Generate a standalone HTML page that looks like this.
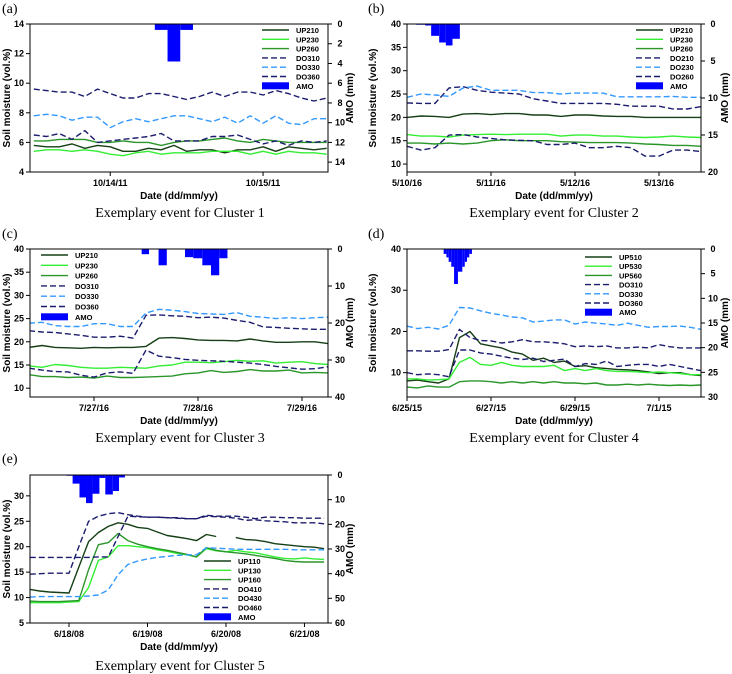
<!DOCTYPE html>
<html><head><meta charset="utf-8"><style>
body{margin:0;background:#fff;}
svg{display:block;font-family:"Liberation Sans",Arial,sans-serif;}
.cap{font-family:"Liberation Serif",serif;font-size:14px;}
</style></head><body>
<svg id="fig" width="732" height="674" viewBox="0 0 732 674" xmlns="http://www.w3.org/2000/svg"></svg>
<script>
// ---------- Panel (a) data ----------
const aHours=[12,14,16,18,20,22,24,26,28,30,32,34,36,38,40,42,44,46,48,50,52,54,56,58];
const aUP210=[5.8,5.7,5.7,5.9,5.6,5.8,5.7,5.4,5.4,5.6,5.5,5.8,5.4,5.5,5.5,5.3,5.5,5.5,5.7,5.4,5.7,5.6,5.5,5.6];
const aUP230=[5.4,5.5,5.5,5.4,5.5,5.4,5.2,5.1,5.3,5.4,5.2,5.3,5.3,5.3,5.4,5.4,5.4,5.2,5.4,5.2,5.4,5.3,5.3,5.2];
const aUP260=[6.1,6.1,6.2,6.2,6.2,6.0,6.0,6.1,6.0,6.0,5.8,6.0,6.1,6.1,6.2,6.3,6.1,6.0,6.2,6.1,6.0,6.0,6.0,6.0];
const aDO310=[9.6,9.5,9.4,9.4,9.1,9.6,9.3,9.0,9.0,9.3,9.3,9.1,8.9,9.1,9.4,9.1,9.4,9.4,9.2,9.5,9.3,9.0,8.8,9.0];
const aDO330=[7.8,7.9,7.8,7.5,7.7,7.7,7.0,7.4,7.6,7.4,7.6,7.8,7.8,7.6,7.4,7.7,7.3,7.8,7.3,7.8,7.3,7.2,7.6,7.6];
const aDO360=[6.5,6.4,6.6,6.2,6.8,6.0,6.1,6.2,6.3,6.4,6.6,6.1,6.1,6.1,6.4,6.4,6.5,6.2,5.9,6.1,5.8,6.1,6.0,6.1];
const aBarStart=[31,33,35];
const aBarEnd=[33,35,37];
const aAMO=[0.6,3.8,0.6];
const aTickHours=[24,48];
const aTickLabels=["10/14/11","10/15/11"];
// ---------- Panel (b) data ----------
const bHours=[0,4,8,12,16,20,24,28,32,36,40,44,48,52,56,60,64,68,72,76,80,84];
const bUP210=[20.0,20.3,20.2,20.0,20.7,20.8,20.6,20.8,20.8,20.5,20.5,20.2,20.5,20.5,20.3,20.2,20.2,20.0,20.0,20.0,20.0,20.0];
const bUP230=[16.3,16.0,16.0,15.8,16.2,16.3,16.4,16.3,16.4,16.4,16.4,16.0,16.2,16.2,16.0,16.0,15.8,15.7,15.8,16.0,15.8,15.7];
const bUP260=[14.5,14.5,14.3,14.5,14.3,14.5,15.0,15.2,15.0,15.0,15.0,14.8,14.7,14.6,14.6,14.6,14.5,14.3,14.2,14.0,14.0,13.8];
const bDO210=[23.1,23.0,23.0,26.3,26.6,25.8,25.4,25.2,25.0,24.0,23.5,23.0,23.0,23.0,23.0,22.8,22.4,22.4,22.4,21.8,21.8,22.3];
const bDO230=[24.3,25.0,24.8,24.5,26.3,26.7,25.8,25.8,25.8,25.3,25.3,25.0,25.2,25.2,25.2,24.4,24.4,24.4,24.4,24.5,24.3,24.3];
const bDO260=[13.8,13.0,13.5,16.2,16.3,15.8,15.5,15.2,15.1,15.0,14.2,14.2,14.5,13.5,13.5,13.8,13.5,11.7,11.7,13.0,13.0,12.7];
const bBarStart=[2.6,5.2,6.9,9.2,11.1,13.0];
const bBarEnd=[5.2,6.9,9.2,11.1,13.0,15.1];
const bAMO=[0.1,0.2,1.6,2.5,2.9,2.0];
const bTickHours=[0,24,48,72];
const bTickLabels=["5/10/16","5/11/16","5/12/16","5/13/16"];
// ---------- Panel (c) data ----------
const cHours=[9,12,15,18,21,24,27,30,33,36,39,42,45,48,51,54,57,60,63,66,69,72,75,78];
const cUP210=[18.8,19.2,18.8,18.7,18.6,18.8,18.7,18.8,18.8,19.0,20.8,20.9,20.7,20.4,20.3,20.3,20.2,20.6,20.2,19.9,19.9,20.0,20.0,19.6];
const cUP230=[14.8,14.5,15.1,14.9,14.5,14.3,14.3,14.5,14.4,14.3,14.8,15.0,15.6,15.6,15.5,15.7,16.0,15.8,15.9,15.4,15.6,15.7,15.3,15.1];
const cUP260=[12.9,12.5,12.5,12.3,12.4,12.2,12.6,12.3,12.3,12.4,12.5,12.6,13.1,13.3,13.8,13.4,13.6,14.0,13.7,13.7,13.9,13.3,13.4,13.3];
const cDO310=[22.4,22.1,22.0,21.7,21.4,21.0,21.0,21.2,20.8,25.7,25.8,25.6,25.5,25.2,25.3,25.1,24.6,24.2,23.2,23.1,22.9,22.8,22.7,22.7];
const cDO330=[24.0,24.2,23.5,23.3,23.3,23.9,23.9,23.3,23.3,26.2,27.0,26.8,26.5,26.1,26.0,25.9,26.3,25.5,25.3,25.0,25.2,25.0,25.2,25.3];
const cDO360=[14.3,13.9,13.6,13.5,12.8,12.4,13.3,13.5,13.2,18.2,16.9,16.6,16.2,16.0,15.9,15.8,15.6,15.4,15.1,14.7,14.4,14.1,14.2,14.6];
const cBarStart=[35,38.9,45,46.9,49,51,52.9];
const cBarEnd=[36.7,40.8,46.9,49,51,52.9,54.8];
const cAMO=[1.4,4.4,2.2,2.5,4.4,7.1,2.5];
const cTickHours=[24,48,72];
const cTickLabels=["7/27/16","7/28/16","7/29/16"];
// ---------- Panel (d) data ----------
const dHours=[0,6,12,18,24,30,36,42,48,54,60,66,72,78,84,90,96,102,108,114,120,126,132,138,144,150,156,162,168];
const dUP510=[8.0,8.2,7.8,7.5,8.5,18.5,20.0,17.0,16.5,16.0,15.0,14.5,13.0,13.5,12.5,12.8,11.5,11.7,11.2,11.0,10.8,10.7,10.5,10.2,9.8,10.0,10.0,9.5,9.3];
const dUP530=[8.5,8.5,8.2,8.3,8.5,12.5,13.7,12.0,11.8,12.5,11.8,11.5,11.5,11.5,11.8,10.5,11.0,10.5,11.0,10.5,10.3,10.3,10.2,10.0,10.2,10.0,9.8,9.5,9.5];
const dUP560=[6.5,6.3,6.8,6.5,6.5,7.8,8.0,8.0,7.8,7.5,7.8,7.5,7.8,7.5,7.8,7.5,7.5,7.3,7.5,7.0,7.0,7.2,7.0,7.2,7.0,6.9,7.0,6.9,7.0];
const dDO310=[15.3,15.3,15.2,15.2,15.6,20.5,18.5,17.8,17.7,17.2,17.5,18.0,17.5,17.5,17.3,17.0,16.3,16.5,16.3,16.5,16.0,16.0,16.2,16.0,16.8,16.3,16.0,16.0,16.0];
const dDO330=[21.3,20.7,21.0,20.6,21.5,25.8,25.7,25.0,24.4,24.0,23.5,23.3,22.3,22.5,22.8,22.8,21.8,22.3,22.0,21.8,21.5,22.0,21.5,21.0,21.2,21.2,21.3,21.0,20.5];
const dDO360=[10.0,9.5,9.7,9.5,9.0,15.5,15.5,14.8,14.5,14.0,13.5,13.2,13.5,12.7,13.0,13.3,11.5,12.2,12.0,12.8,11.5,11.8,12.0,12.0,11.5,12.0,11.5,11.0,10.5];
const dBarStart=[20.95,22.5,23.8,25.3,26.9,29.1,31.6,33.0,34.3,35.6];
const dBarEnd=[22.5,23.8,25.3,26.9,29.1,31.6,33.0,34.3,35.6,37.1];
const dAMO=[1.0,1.7,2.6,3.6,7.1,4.6,3.6,2.6,1.7,1.0];
const dTickHours=[0,48,96,144];
const dTickLabels=["6/25/15","6/27/15","6/29/15","7/1/15"];
// ---------- Panel (e) data ----------
const eHours=[12,15,18,21,24,27,30,33,36,39,42,45,48,51,54,57,60,63,66,69,72,75,78,81,84,87,90,93,96,99,102];
const eUP110=[11.6,11.3,11.1,11.0,10.9,16.0,21.0,22.8,24.0,24.7,24.4,23.8,23.6,22.9,22.2,21.9,21.6,21.2,22.4,22.0,null,21.8,21.4,21.3,21.0,20.6,20.4,20.2,20.0,19.9,19.6];
const eUP130=[9.0,9.0,9.0,9.0,9.1,9.2,12.0,17.3,18.0,20.2,20.2,20.0,19.8,19.4,19.1,18.7,18.4,18.0,19.6,19.2,19.0,19.3,19.0,18.8,18.4,18.0,17.7,17.6,17.8,17.6,17.5];
const eUP160=[9.3,9.2,9.2,9.2,9.3,9.4,15.5,20.4,20.8,22.6,21.2,20.5,20.0,19.6,19.3,18.9,18.5,18.0,19.8,19.3,19.0,18.8,18.6,18.3,18.0,17.7,17.3,17.1,17.0,17.0,17.0];
const eDO410=[14.6,14.7,14.8,14.8,14.8,20.0,25.0,26.0,26.5,26.7,26.3,26.0,25.8,25.8,25.7,25.7,25.5,25.5,26.2,26.0,26.0,26.0,25.8,25.5,25.8,25.8,25.7,25.7,25.6,25.6,25.6];
const eDO430=[10.1,10.2,10.2,10.2,10.2,10.2,10.3,10.5,11.5,14.5,16.5,17.2,17.6,17.9,18.1,18.3,18.4,18.4,19.8,19.7,19.6,19.5,19.5,19.5,19.5,19.5,19.5,19.4,19.4,19.4,19.4];
const eDO460=[17.9,17.9,17.9,17.9,17.9,17.9,17.9,18.0,18.0,22.0,26.0,25.9,25.8,25.8,25.7,25.6,25.5,25.5,26.0,25.9,25.8,25.6,25.2,25.3,25.1,25.0,24.9,24.7,24.7,24.7,24.5];
const eBarStart=[23.3,25.1,27.2,29.2,31.2,33.3,35.1,37.4,39.3];
const eBarEnd=[25.1,27.2,29.2,31.2,33.3,35.1,37.4,39.3,41.1];
const eAMO=[0.3,3.5,9.1,11.4,7.6,1.2,7.9,6.5,1.0];
const eTickHours=[24,48,72,96];
const eTickLabels=["6/18/08","6/19/08","6/20/08","6/21/08"];

const DG="#163f16", BG="#33ee33", MG="#2a962a", NV="#1c1c6e", LB="#3399ff", AB="#0000ff";
const NS="http://www.w3.org/2000/svg";
const svg=document.getElementById('fig');
function mk(tag,attrs,parent){const e=document.createElementNS(NS,tag);for(const k in attrs)e.setAttribute(k,attrs[k]);(parent||svg).appendChild(e);return e;}

const panels=[
 {id:'a',label:'(a)',ox:0,oy:0,x0:30,x1:328,y0:24,y1:172,tMin:11.4,tMax:58.2,lMin:4,lMax:14,lTicks:[4,6,8,10,12,14],rMax:15,rTicks:[0,2,4,6,8,10,12,14],
  hours:aHours,ticks:aTickHours,tickLabels:aTickLabels,bs:aBarStart,be:aBarEnd,amo:aAMO,
  series:[["UP210",aUP210,DG,0],["UP230",aUP230,BG,0],["UP260",aUP260,MG,0],["DO310",aDO310,NV,1],["DO330",aDO330,LB,1],["DO360",aDO360,NV,1]],
  leg:{x:262,y:30,dy:9.3},capX:180,capY:217,rTitleX:353},
 {id:'b',label:'(b)',ox:366,oy:0,x0:407,x1:701,y0:24,y1:172,tMin:0,tMax:84,lMin:8.3,lMax:40,lTicks:[10,15,20,25,30,35,40],rMax:20,rTicks:[0,5,10,15,20],
  hours:bHours,ticks:bTickHours,tickLabels:bTickLabels,bs:bBarStart,be:bBarEnd,amo:bAMO,
  series:[["UP210",bUP210,DG,0],["UP230",bUP230,BG,0],["UP260",bUP260,MG,0],["DO210",bDO210,NV,1],["DO230",bDO230,LB,1],["DO260",bDO260,NV,1]],
  leg:{x:636,y:30,dy:9.3},capX:554,capY:217,rTitleX:728},
 {id:'c',label:'(c)',ox:0,oy:225,x0:30,x1:328,y0:249,y1:397,tMin:9.23,tMax:78,lMin:8.1,lMax:40,lTicks:[10,15,20,25,30,35,40],rMax:40,rTicks:[0,10,20,30,40],
  hours:cHours,ticks:cTickHours,tickLabels:cTickLabels,bs:cBarStart,be:cBarEnd,amo:cAMO,
  series:[["UP210",cUP210,DG,0],["UP230",cUP230,BG,0],["UP260",cUP260,MG,0],["DO310",cDO310,NV,1],["DO330",cDO330,LB,1],["DO360",cDO360,NV,1]],
  leg:{x:41,y:255,dy:10.3},capX:180,capY:442,rTitleX:353},
 {id:'d',label:'(d)',ox:366,oy:225,x0:407,x1:701,y0:249,y1:397,tMin:0,tMax:168,lMin:4.1,lMax:40,lTicks:[10,20,30,40],rMax:30,rTicks:[0,5,10,15,20,25,30],
  hours:dHours,ticks:dTickHours,tickLabels:dTickLabels,bs:dBarStart,be:dBarEnd,amo:dAMO,
  series:[["UP510",dUP510,DG,0],["UP530",dUP530,BG,0],["UP560",dUP560,MG,0],["DO310",dDO310,NV,1],["DO330",dDO330,LB,1],["DO360",dDO360,NV,1]],
  leg:{x:585,y:257,dy:9.2},capX:554,capY:442,rTitleX:728},
 {id:'e',label:'(e)',ox:0,oy:450,x0:30,x1:328,y0:475,y1:623,tMin:12.07,tMax:103.2,lMin:5,lMax:34.1,lTicks:[5,10,15,20,25,30],rMax:60,rTicks:[0,10,20,30,40,50,60],
  hours:eHours,ticks:eTickHours,tickLabels:eTickLabels,bs:eBarStart,be:eBarEnd,amo:eAMO,
  series:[["UP110",eUP110,DG,0],["UP130",eUP130,BG,0],["UP160",eUP160,MG,0],["DO410",eDO410,NV,1],["DO430",eDO430,LB,1],["DO460",eDO460,NV,1]],
  leg:{x:204,y:561,dy:9.3},capX:180,capY:670,rTitleX:353}
];

panels.forEach(p=>{
  const g=mk('g',{});
  
  
  const X=t=>p.x0+(t-p.tMin)/(p.tMax-p.tMin)*(p.x1-p.x0);
  const YL=v=>p.y1-(v-p.lMin)/(p.lMax-p.lMin)*(p.y1-p.y0);
  const YR=v=>p.y0+v/p.rMax*(p.y1-p.y0);
  const clip=mk('clipPath',{id:'clip'+p.id},g);
  mk('rect',{x:p.x0,y:p.y0,width:p.x1-p.x0,height:p.y1-p.y0},clip);
  const pl=mk('g',{'clip-path':'url(#clip'+p.id+')'},g);
  // bars
  p.amo.forEach((v,i)=>{
    const r=mk('rect',{x:X(p.bs[i]),y:p.y0,width:Math.max(0.5,X(p.be[i])-X(p.bs[i])),height:YR(v)-p.y0,fill:AB},pl);
    
    
  });
  // series
  p.series.forEach(s=>{
    let d='',pen=false;
    s[1].forEach((v,i)=>{
      if(v===null){pen=false;return;}
      d+=(pen?'L':'M')+X(p.hours[i]).toFixed(1)+','+YL(v).toFixed(1);pen=true;
    });
    const a={d:d,fill:'none',stroke:s[2],'stroke-width':1.4,'stroke-linejoin':'round'};
    if(s[3])a['stroke-dasharray']='6,3';
    const path=mk('path',a,pl);
    
    
  });
  // frame
  mk('rect',{x:p.x0,y:p.y0,width:p.x1-p.x0,height:p.y1-p.y0,fill:'none',stroke:'#000','stroke-width':1},g);
  // left ticks
  p.lTicks.forEach(v=>{
    const y=YL(v);
    mk('line',{x1:p.x0-4,x2:p.x0,y1:y,y2:y,stroke:'#000'},g);
    const t=mk('text',{x:p.x0-6,y:y+3,'font-size':9,'font-weight':'bold','text-anchor':'end'},g);t.textContent=v;
    
    
  });
  p.rTicks.forEach(v=>{
    const y=YR(v);
    mk('line',{x1:p.x1,x2:p.x1+4,y1:y,y2:y,stroke:'#000'},g);
    const t=mk('text',{x:p.x1+12,y:y+3,'font-size':9,'font-weight':'bold','text-anchor':'middle'},g);t.textContent=v;
    
    
  });
  p.ticks.forEach((h,i)=>{
    const x=X(h);
    mk('line',{x1:x,x2:x,y1:p.y1,y2:p.y1+4,stroke:'#000'},g);
    const t=mk('text',{x:x,y:p.y1+14,'font-size':9,'font-weight':'bold','text-anchor':'middle'},g);t.textContent=p.tickLabels[i];
    
    
  });
  // titles
  const cy=(p.y0+p.y1)/2, cx=(p.x0+p.x1)/2;
  const yt=mk('text',{x:p.ox+10,y:cy,'font-size':10,'font-weight':'bold','text-anchor':'middle',transform:'rotate(-90 '+(p.ox+10)+' '+cy+')'},g);
  yt.textContent='Soil moisture (vol.%)';
  
  
  const rt=mk('text',{x:p.rTitleX,y:cy,'font-size':10,'font-weight':'bold','text-anchor':'middle',transform:'rotate(-90 '+p.rTitleX+' '+cy+')'},g);
  rt.textContent='AMO (mm)';
  
  
  const xt=mk('text',{x:cx,y:p.y1+27,'font-size':10,'font-weight':'bold','text-anchor':'middle'},g);
  xt.textContent='Date (dd/mm/yy)';
  
  
  const pl2=mk('text',{x:p.ox+2,y:p.oy+13,'font-size':14,'font-family':'Liberation Serif,serif'},g);
  pl2.textContent=p.label;
  
  
  const cap=mk('text',{x:p.capX,y:p.capY,'text-anchor':'middle',class:'cap'},g);
  cap.textContent='Exemplary event for Cluster '+(['a','b','c','d','e'].indexOf(p.id)+1);
  
  
  // legend
  const items=p.series.map(s=>[s[0],s[2],s[3]]).concat([["AMO",AB,2]]);
  items.forEach((it,i)=>{
    const y=p.leg.y+i*p.leg.dy;
    if(it[2]===2){mk('rect',{x:p.leg.x,y:y-3.5,width:27,height:7,fill:AB},g);}
    else{const a={x1:p.leg.x,x2:p.leg.x+27,y1:y,y2:y,stroke:it[1],'stroke-width':1.4};if(it[2])a['stroke-dasharray']='6,3';mk('line',a,g);}
    const t=mk('text',{x:p.leg.x+34,y:y+3,'font-size':7.5,'font-weight':'bold'},g);t.textContent=it[0];
    
    
  });
});
</script>
</body></html>
